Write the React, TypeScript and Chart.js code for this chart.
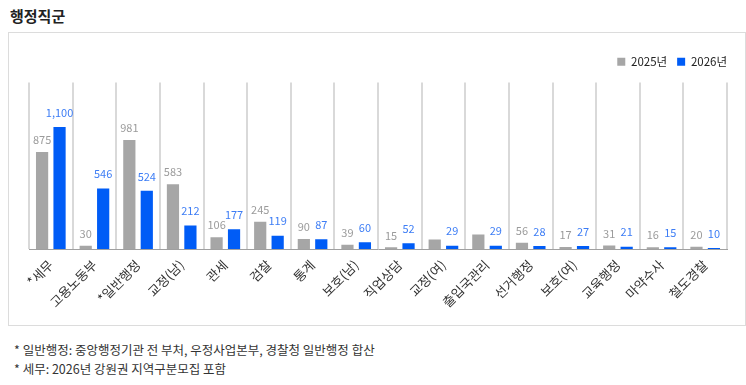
import React, { useEffect, useRef } from "react";
import { Chart, registerables } from "chart.js";

Chart.register(...registerables);

const title = "행정직군";
const categories = [
  "*세무",
  "고용노동부",
  "*일반행정",
  "교정(남)",
  "관세",
  "검찰",
  "통계",
  "보호(남)",
  "직업상담",
  "교정(여)",
  "출입국관리",
  "선거행정",
  "보호(여)",
  "교육행정",
  "마약수사",
  "철도경찰",
];
const seriesNames = ["2025년", "2026년"];
const values2025 = [875, 30, 981, 583, 106, 245, 90, 39, 15, 85, 130, 56, 17, 31, 16, 20];
const values2026 = [1100, 546, 524, 212, 177, 119, 87, 60, 52, 29, 29, 28, 27, 21, 15, 10];
// categories whose 2025 value label is not shown in the original
const unlabeled2025 = ["교정(여)", "출입국관리"];
const yMax = 1500;
const footnotes = [
  "* 일반행정: 중앙행정기관 전 부처, 우정사업본부, 경찰청 일반행정 합산",
  "* 세무: 2026년 강원권 지역구분모집 포함",
];

const FONT = "'Noto Sans CJK KR', 'Noto Sans', sans-serif";
const GRAY = "#a6a6a6";
const BLUE = "#005cf6";

const valueLabels = {
  id: "valueLabels",
  beforeInit(chart: any) {
    const legend = chart.legend;
    if (legend) {
      const origFit = legend.fit.bind(legend);
      legend.fit = function () {
        origFit();
        this.height += 5;
      };
    }
  },
  afterDatasetsDraw(chart: any) {
    const ctx = chart.ctx;
    ctx.save();
    ctx.textAlign = "center";
    ctx.textBaseline = "middle";
    chart.data.datasets.forEach((ds: any, di: number) => {
      const meta = chart.getDatasetMeta(di);
      meta.data.forEach((bar: any, i: number) => {
        if (di === 0 && unlabeled2025.includes(categories[i])) return;
        const v = ds.data[i];
        const txt = v.toLocaleString("en-US");
        ctx.font = `11px ${FONT}`;
        ctx.fillStyle = di === 0 ? "#9b9b9b" : "#3d7df5";
        const off = di === 0 ? 12 : 14.5;
        ctx.fillText(txt, bar.x, bar.y - off);
      });
    });
    ctx.restore();
  },
};

export default function App() {
  const ref = useRef<HTMLCanvasElement | null>(null);

  useEffect(() => {
    if (!ref.current) return;
    const chart = new Chart(ref.current, {
      type: "bar",
      data: {
        labels: categories,
        datasets: [
          {
            label: seriesNames[0],
            data: values2025,
            backgroundColor: GRAY,
            categoryPercentage: 0.8,
            barPercentage: 0.7,
          },
          {
            label: seriesNames[1],
            data: values2026,
            backgroundColor: BLUE,
            categoryPercentage: 0.8,
            barPercentage: 0.7,
          },
        ],
      },
      options: {
        responsive: false,
        animation: false,
        layout: { padding: { left: 20, right: 8, top: 13, bottom: 0 } },
        plugins: {
          legend: {
            position: "top",
            align: "end",
            labels: {
              boxWidth: 8,
              boxHeight: 8,
              padding: 10,
              color: "#222",
              font: { family: FONT, size: 11.5 },
            },
          },
          tooltip: { enabled: false },
        },
        scales: {
          x: {
            offset: true,
            grid: {
              display: true,
              offset: true,
              color: "#d9d9d9",
              lineWidth: 2,
              drawTicks: false,
            },
            border: { display: true, color: "#a0a0a0", width: 1 },
            ticks: {
              minRotation: 45,
              maxRotation: 45,
              autoSkip: false,
              padding: 8,
              color: "#333",
              font: { family: FONT, size: 13 },
            },
            afterFit: (scale: any) => {
              scale.height = 76;
            },
          },
          y: {
            display: true,
            position: "right",
            min: 0,
            max: yMax,
            grid: { display: false },
            border: { display: false },
            ticks: { display: false },
            afterFit: (scale: any) => {
              scale.width = 10;
            },
          },
        },
      },
      plugins: [valueLabels],
    });
    return () => chart.destroy();
  }, []);

  return (
    <div style={{ position: "absolute", left: 0, top: 0, width: 746, height: 385, background: "#fff", fontFamily: FONT }}>
      <div style={{ position: "absolute", left: 10, top: 6, fontSize: 15, fontWeight: 700, color: "#222", lineHeight: "20px" }}>
        {title}
      </div>
      <div
        style={{
          position: "absolute",
          left: 8,
          top: 32,
          width: 736,
          height: 292,
          border: "1px solid #dcdcdc",
        }}
      >
        <canvas ref={ref} width={736} height={292} style={{ display: "block" }} />
      </div>
      {footnotes.map((t, i) => (
        <div
          key={i}
          style={{
            position: "absolute",
            left: 14,
            top: 341 + i * 19,
            fontSize: 12.5,
            color: "#333",
            lineHeight: "18px",
            whiteSpace: "nowrap",
          }}
        >
          {t}
        </div>
      ))}
    </div>
  );
}
